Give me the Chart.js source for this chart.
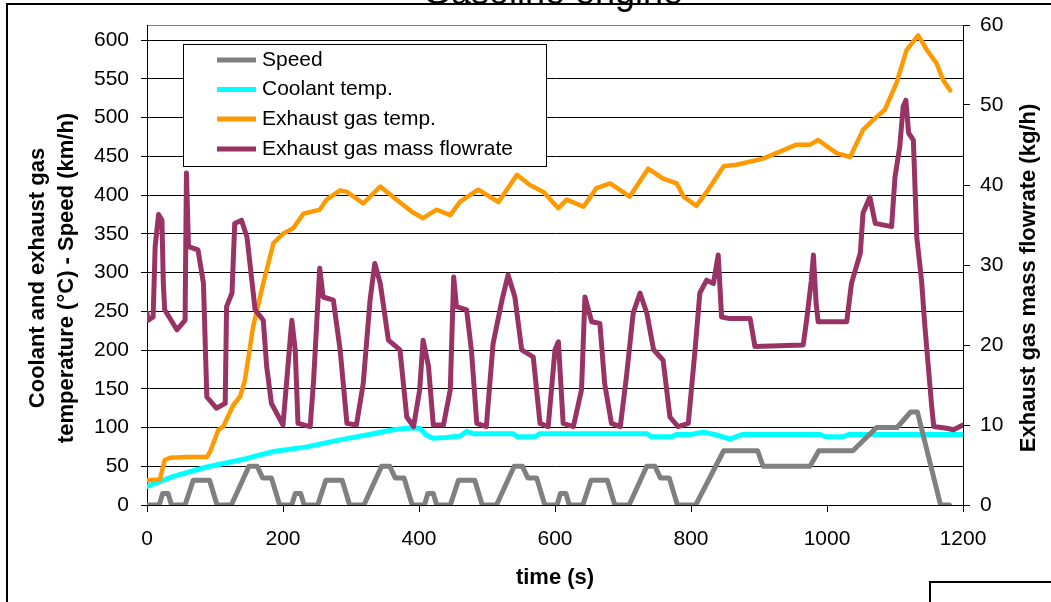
<!DOCTYPE html>
<html><head><meta charset="utf-8">
<script src="https://cdn.jsdelivr.net/npm/chart.js@4.4.1/dist/chart.umd.min.js"></script>
<style>html,body{margin:0;padding:0;background:#fff;}canvas{display:block;}</style>
</head><body>
<canvas id="c" width="1051" height="602"></canvas>
<script>
const FONT = "'Liberation Sans', Arial, sans-serif";
const chartTitle = 'Gasoline engine';
const xTitle = 'time (s)';
const leftTitle = ['Coolant and exhaust gas', 'temperature (°C) - Speed (km/h)'];
const rightTitle = 'Exhaust gas mass flowrate (kg/h)';
const seriesNames = ['Speed', 'Coolant temp.', 'Exhaust gas temp.', 'Exhaust gas mass flowrate'];
const seriesColors = ['#808080', '#00FFFF', '#FF9900', '#993366'];

const xTickValues = [0, 200, 400, 600, 800, 1000, 1200];
const leftTickValues = [0, 50, 100, 150, 200, 250, 300, 350, 400, 450, 500, 550, 600];
const rightTickValues = [0, 10, 20, 30, 40, 50, 60];

const speedTime = [0,18,23,31,36,56,68,92,103,124,150,162,170,183,195,
  213,218,226,231,251,263,287,298,319,345,357,365,378,390,
  408,413,421,426,446,458,482,493,514,540,552,560,573,585,
  603,608,616,621,641,653,677,688,709,735,747,755,768,780,
  807,848,898,906,975,988,1038,1073,1103,1123,1133,1167,1180];
const speedValues = [0,0,15,15,0,0,32,32,0,0,50,50,35,35,0,
  0,15,15,0,0,32,32,0,0,50,50,35,35,0,
  0,15,15,0,0,32,32,0,0,50,50,35,35,0,
  0,15,15,0,0,32,32,0,0,50,50,35,35,0,
  0,70,70,50,50,70,70,100,100,120,120,0,0];

const coolantTime = [0,39,88,137,186,235,284,333,362,382,401,411,421,440,461,470,480,504,538,545,570,578,735,742,772,779,800,818,835,857,875,990,998,1024,1032,1146,1200];
const coolantValues = [24,37,49,58,69,75,84,92,97,99,99,90,86,87,89,95,92,92,92,88,88,92,92,88,88,91,91,94,91,85,91,91,88,88,91,91,91];

const exhaustTime = [0,19,26,34,60,88,93,105,112,127,137,144,156,171,186,200,215,230,254,264,284,294,318,343,367,390,406,416,426,446,460,487,517,544,563,583,605,617,642,661,681,710,737,759,779,789,808,823,848,867,906,936,955,975,987,1014,1034,1053,1068,1085,1102,1117,1134,1147,1161,1171,1181];
const exhaustValues = [32,33,58,61,62,62,69,97,101,129,140,161,230,286,338,350,357,376,381,394,406,404,389,411,394,378,370,376,381,374,391,407,391,426,413,404,383,394,385,409,415,398,434,421,415,398,386,404,437,439,447,458,465,465,471,454,449,484,497,510,544,587,606,587,570,548,535];

const flowTime = [0,2,9,12,17,22,24,26,44,56,58,61,75,83,88,102,115,117,125,129,139,147,159,171,176,183,200,208,213,218,222,240,245,254,259,274,284,294,308,318,328,335,343,355,372,382,392,401,406,414,421,436,446,451,455,470,477,485,499,509,522,531,541,551,568,578,590,600,605,612,627,639,644,654,666,673,683,696,705,715,725,735,745,759,769,781,796,806,813,823,833,840,845,857,887,894,965,970,977,980,984,987,1029,1036,1049,1053,1063,1071,1095,1100,1107,1112,1116,1120,1127,1132,1139,1144,1149,1154,1157,1176,1186,1200];
const flowValues = [24,23.1,23.5,32.3,36.3,35.6,27.7,24.4,21.9,23.1,41.5,32.3,31.9,27.7,13.5,12.1,12.7,24.8,26.5,35.2,35.6,33.5,24.4,23.1,17.3,12.7,10,18.1,23.1,19.4,10.2,9.8,15.6,29.6,26,25.6,19.4,10.2,10,15.2,25.6,30.2,27.7,20.6,19.4,11,9.8,14.4,20.6,17.3,10,10,14.4,28.5,24.8,24.4,19.4,10.2,9.8,20.2,25.6,28.75,26,19.4,18.5,10.2,9.8,19.4,20.4,10.2,9.8,14.4,26,22.9,22.7,15.2,10.2,9.8,16,24,26.5,24,19.4,18.1,11,9.8,10.2,19.4,26.5,28.1,27.7,31.25,23.5,23.3,23.3,19.8,20,23.1,28.1,31.25,25.2,22.9,22.9,27.7,31.5,36.5,38.5,35.2,34.8,41,44.8,49.8,50.6,46.5,45.6,33.5,28.1,22.3,17.3,12.3,9.8,9.6,9.4,10];

const pts = (t, v) => t.map((x, i) => ({x: x, y: v[i]}));

const decor = {
  id: 'decor',
  beforeDraw(chart) {
    const c = chart.ctx; c.save(); c.fillStyle = '#fff'; c.fillRect(0, 0, chart.width, chart.height); c.restore();
  },
  afterDraw(chart) {
    const c = chart.ctx;
    c.save();
    c.strokeStyle = '#000'; c.lineWidth = 2;
    c.beginPath(); c.moveTo(7, chart.height + 5); c.lineTo(7, 4); c.lineTo(chart.width + 5, 4); c.stroke();
    c.beginPath(); c.moveTo(930, chart.height + 5); c.lineTo(930, 582); c.lineTo(chart.width + 5, 582); c.stroke();
    c.fillStyle = '#000';
    c.font = '36px ' + FONT; c.textAlign = 'center'; c.textBaseline = 'alphabetic';
    c.fillText(chartTitle, 553, 4);
    c.font = 'bold 22px ' + FONT; c.textBaseline = 'middle';
    c.fillText(xTitle, 555, 578);
    c.save(); c.translate(38, 278); c.rotate(-Math.PI / 2); c.fillText(leftTitle[0], 0, 0); c.restore();
    c.save(); c.translate(67, 278); c.rotate(-Math.PI / 2); c.fillText(leftTitle[1], 0, 0); c.restore();
    c.save(); c.translate(1029, 278); c.rotate(-Math.PI / 2); c.fillText(rightTitle, 0, 0); c.restore();
    // legend
    c.fillStyle = '#fff'; c.fillRect(183.5, 44.5, 363, 122);
    c.lineWidth = 1; c.strokeStyle = '#000'; c.strokeRect(183.5, 44.5, 363, 122);
    c.font = '21px ' + FONT; c.textAlign = 'left'; c.textBaseline = 'middle';
    const rows = [60, 89.5, 119, 149];
    chart.data.datasets.forEach((ds, i) => {
      c.strokeStyle = ds.borderColor; c.lineWidth = 5; c.lineCap = 'butt';
      c.beginPath(); c.moveTo(217, rows[i]); c.lineTo(256, rows[i]); c.stroke();
      c.fillStyle = '#000'; c.fillText(ds.label, 262, rows[i]);
    });
    c.restore();
  }
};

const tickFont = {family: FONT, size: 21};
const plainLabel = v => String(v);
new Chart(document.getElementById('c'), {
  type: 'line',
  data: {
    datasets: [
      {label: seriesNames[0], data: pts(speedTime, speedValues), borderColor: seriesColors[0], borderWidth: 5, yAxisID: 'y', order: 2},
      {label: seriesNames[1], data: pts(coolantTime, coolantValues), borderColor: seriesColors[1], borderWidth: 5, yAxisID: 'y', order: 3},
      {label: seriesNames[2], data: pts(exhaustTime, exhaustValues), borderColor: seriesColors[2], borderWidth: 4.5, yAxisID: 'y', order: 1},
      {label: seriesNames[3], data: pts(flowTime, flowValues), borderColor: seriesColors[3], borderWidth: 5, yAxisID: 'y1', order: 0}
    ]
  },
  options: {
    responsive: false, animation: false, devicePixelRatio: 1,
    layout: {padding: {top: 25, left: 0, right: 0, bottom: 0}},
    elements: {point: {radius: 0}, line: {tension: 0, borderJoinStyle: 'round', borderCapStyle: 'round', fill: false}},
    plugins: {legend: {display: false}, tooltip: {enabled: false}, title: {display: false}},
    scales: {
      x: {
        type: 'linear', position: 'bottom', min: 0, max: 1200,
        afterBuildTicks: s => { s.ticks = xTickValues.map(v => ({value: v})); },
        ticks: {font: tickFont, color: '#000', padding: 15, maxRotation: 0, autoSkip: false, callback: plainLabel},
        grid: {drawOnChartArea: false, drawTicks: true, tickLength: 7, color: '#000'},
        border: {color: '#000', width: 1},
        afterFit: s => { s.height = 97; }
      },
      y: {
        type: 'linear', position: 'left', min: 0, max: 600 * 480 / 465,
        afterBuildTicks: s => { s.ticks = leftTickValues.map(v => ({value: v})); },
        ticks: {font: tickFont, color: '#000', padding: 12, autoSkip: false, callback: plainLabel},
        grid: {color: '#000', tickLength: 6, tickColor: '#000'},
        border: {color: '#000', width: 1},
        afterFit: s => { s.width = 147; }
      },
      y1: {
        type: 'linear', position: 'right', min: 0, max: 60,
        afterBuildTicks: s => { s.ticks = rightTickValues.map(v => ({value: v})); },
        ticks: {font: tickFont, color: '#000', padding: 10, autoSkip: false, callback: plainLabel},
        grid: {drawOnChartArea: true, color: c => (c.tick && c.tick.value === 60) ? '#808080' : 'rgba(0,0,0,0)', tickColor: '#000', tickLength: 7},
        border: {color: '#000', width: 1},
        afterFit: s => { s.width = 88; }
      }
    }
  },
  plugins: [decor]
});
</script>
</body></html>
